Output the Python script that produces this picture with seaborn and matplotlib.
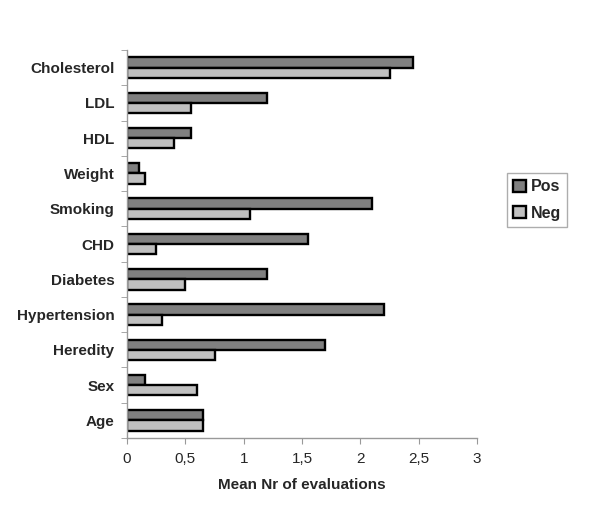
import pandas as pd
import matplotlib
matplotlib.use("Agg")
import matplotlib.pyplot as plt
import seaborn as sns

categories = ["Cholesterol", "LDL", "HDL", "Weight", "Smoking", "CHD",
              "Diabetes", "Hypertension", "Heredity", "Sex", "Age"]
pos_values = [2.45, 1.2, 0.55, 0.1, 2.1, 1.55, 1.2, 2.2, 1.7, 0.15, 0.65]
neg_values = [2.25, 0.55, 0.4, 0.15, 1.05, 0.25, 0.5, 0.3, 0.75, 0.6, 0.65]
x_ticks = [0, 0.5, 1, 1.5, 2, 2.5, 3]
x_tick_labels = ["0", "0,5", "1", "1,5", "2", "2,5", "3"]

df = pd.DataFrame({
    "Category": categories * 2,
    "Value": pos_values + neg_values,
    "Series": ["Pos"] * len(categories) + ["Neg"] * len(categories),
})

sns.set_style("white")
plt.rcParams["font.family"] = ["Liberation Sans", "DejaVu Sans"]

fig = plt.figure(figsize=(6, 5.23), dpi=100)
ax = fig.add_axes([127 / 600, 1 - 438 / 523, 350 / 600, 388 / 523])

sns.barplot(data=df, y="Category", x="Value", hue="Series", order=categories,
            hue_order=["Pos", "Neg"], palette={"Pos": "#808080", "Neg": "#c0c0c0"},
            edgecolor="black", linewidth=1.7, width=0.58, orient="h", ax=ax,
            legend=True)

ax.set_xlim(0, 3)
ax.set_xticks(x_ticks)
ax.set_xticklabels(x_tick_labels, fontsize=11)
ax.set_ylim(len(categories) - 0.5, -0.5)
ax.set_yticks([i + 0.5 for i in range(-1, len(categories))], minor=True)
ax.set_yticks(range(len(categories)))
ax.set_yticklabels(categories, fontsize=11, fontweight="bold")
ax.tick_params(axis="y", which="major", length=0, pad=9)
ax.tick_params(axis="y", which="minor", length=4, color="#999999", left=True)
ax.tick_params(axis="x", length=4, color="#999999", bottom=True, pad=6)
ax.set_xlabel("Mean Nr of evaluations", fontsize=11, fontweight="bold", labelpad=9)
ax.set_ylabel("")

for side in ["top", "right"]:
    ax.spines[side].set_visible(False)
for side in ["left", "bottom"]:
    ax.spines[side].set_color("#999999")
    ax.spines[side].set_linewidth(1)

leg = ax.legend(loc="center", bbox_to_anchor=(537 / 600, 1 - 200 / 523),
                bbox_transform=fig.transFigure, frameon=True, fancybox=False,
                prop={"weight": "bold", "size": 11.5}, handlelength=0.8,
                handleheight=0.8, handletextpad=0.3, borderpad=0.4,
                labelspacing=0.7)
leg.get_frame().set_edgecolor("#999999")
leg.get_frame().set_linewidth(1)

fig.savefig("out.png", dpi=100)
